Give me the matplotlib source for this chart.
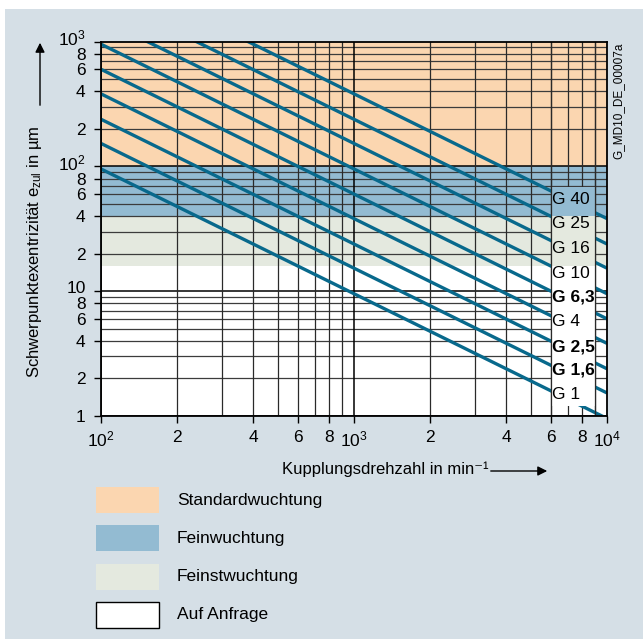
import numpy as np
import matplotlib.pyplot as plt
import matplotlib.transforms as mtransforms
from matplotlib.patches import Rectangle, FancyArrowPatch

plt.rcParams['font.family'] = ['Liberation Sans', 'DejaVu Sans']
plt.rcParams['mathtext.fontset'] = 'custom'
plt.rcParams['mathtext.rm'] = 'Liberation Sans'

# Wuchtgüte G: zulässige Exzentrizität bei 100 und 10000 1/min
grades = ['G 1', 'G 1,6', 'G 2,5', 'G 4', 'G 6,3', 'G 10', 'G 16', 'G 25', 'G 40']
bold = [False, True, True, False, True, False, False, False, False]
e_at_100 = [95.5, 153, 239, 382, 601, 955, 1528, 2387, 3820]
e_at_10000 = [0.955, 1.53, 2.39, 3.82, 6.01, 9.55, 15.3, 23.9, 38.2]
n_ends = [100, 10000]

# Bereiche
band_names = ['Standardwuchtung', 'Feinwuchtung', 'Feinstwuchtung', 'Auf Anfrage']
band_lo = [100, 40, 16, 1]
band_hi = [1000, 100, 40, 16]
band_colors = ['#fbd6b0', '#93bbd2', '#e4e9df', '#ffffff']

x_ticks = [100, 200, 400, 600, 800, 1000, 2000, 4000, 6000, 8000, 10000]
x_labels = ['$\\mathregular{10^2}$', '2', '4', '6', '8', '$\\mathregular{10^3}$',
            '2', '4', '6', '8', '$\\mathregular{10^4}$']
y_ticks = [1, 2, 4, 6, 8, 10, 20, 40, 60, 80, 100, 200, 400, 600, 800, 1000]
y_labels = ['1', '2', '4', '6', '8', '10', '2', '4', '6', '8', '$\\mathregular{10^2}$',
            '2', '4', '6', '8', '$\\mathregular{10^3}$']

line_col = '#08698c'
bg = '#d5dfe6'

fig = plt.figure(figsize=(6.43, 6.39), dpi=100, facecolor='white')
fig.patches.append(Rectangle((5 / 643, 0), 1, 630 / 639, transform=fig.transFigure,
                             facecolor=bg, edgecolor='none', zorder=-10))

ax = fig.add_axes([101 / 643, 223 / 639, 506 / 643, 374.3 / 639])
ax.set_xscale('log')
ax.set_yscale('log')
ax.set_xlim(100, 10000)
ax.set_ylim(1, 1000)
ax.set_facecolor('white')

for lo, hi, c in zip(band_lo, band_hi, band_colors):
    ax.axhspan(lo, hi, facecolor=c, edgecolor='none', zorder=0.5)

# Raster
for dec in [1, 10, 100]:
    for k in range(1, 10):
        y = dec * k
        ax.axhline(y, color='black' if k == 1 else '#3c3c3c',
                   lw=1.1 if k == 1 else 0.9, zorder=1)
for dec in [100, 1000]:
    for k in range(1, 10):
        x = dec * k
        ax.axvline(x, color='black' if k == 1 else '#2a2a2a',
                   lw=1.1 if k == 1 else 0.9, zorder=1)

for a, b in zip(e_at_100, e_at_10000):
    ax.plot(n_ends, [a, b], color=line_col, lw=2.4, solid_capstyle='butt', zorder=2)

# Beschriftungsfeld für die G-Linien
box_x = (6000, 9000)
box_bottom, box_top = 1.2, 69
for lo, hi, c in zip(band_lo, band_hi, band_colors):
    b0 = max(lo, box_bottom)
    b1 = min(hi, box_top)
    if b1 > b0:
        ax.add_patch(Rectangle((box_x[0], b0), box_x[1] - box_x[0], b1 - b0,
                               facecolor=c, edgecolor='none', zorder=3))
for x in box_x:
    ax.axvline(x, color='#2a2a2a', lw=0.9, zorder=3.5)

label_y = [1.48, 2.34, 3.6, 5.7, 9.0, 14.0, 22.2, 35, 54]
for g, yy, bb in zip(grades, label_y, bold):
    ax.text(6080, yy, g, fontsize=12.5, fontweight='bold' if bb else 'normal',
            ha='left', va='center', zorder=4)

ax.set_xticks(x_ticks)
ax.set_xticklabels(x_labels)
ax.set_yticks(y_ticks)
ax.set_yticklabels(y_labels)
ax.xaxis.set_minor_locator(plt.NullLocator())
ax.yaxis.set_minor_locator(plt.NullLocator())
ax.tick_params(axis='both', length=5, width=1, labelsize=12.5, direction='out')
ax.tick_params(axis='y', pad=6)
ax.tick_params(axis='x', pad=5)
for s in ax.spines.values():
    s.set_linewidth(1.3)
    s.set_zorder(5)

# Dekadenbeschriftung etwas nach oben, damit sie nicht in die 8 läuft
lift = mtransforms.ScaledTranslation(0, 0.045, fig.dpi_scale_trans)
for val, lab in zip(y_ticks, ax.get_yticklabels()):
    if val in (10, 100, 1000):
        lab.set_transform(lab.get_transform() + lift)


def fig_arrow(x0, y0, x1, y1):
    # Pfeil in Pixelkoordinaten (von oben gemessen)
    fig.patches.append(FancyArrowPatch((x0 / 643, 1 - y0 / 639), (x1 / 643, 1 - y1 / 639),
                                       transform=fig.transFigure, arrowstyle='-|>',
                                       color='black', lw=1, mutation_scale=14))


# Achsbeschriftungen mit Pfeilen
fig.text(35 / 643, 1 - 252 / 639, 'Schwerpunktexentrizität $\\mathregular{e_{zul}}$ in µm',
         rotation=90, ha='center', va='center', fontsize=12)
fig_arrow(40, 108, 40, 40)
fig.text(282 / 643, 1 - 469 / 639, 'Kupplungsdrehzahl in min⁻¹',
         ha='left', va='center', fontsize=12)
fig_arrow(488, 471, 550, 471)

fig.text(618 / 643, 1 - 101 / 639, 'G_MD10_DE_00007a', rotation=90,
         ha='center', va='center', fontsize=8.5)

# Legende
leg_top = [487, 525, 564, 602]
for name, c, t in zip(band_names, band_colors, leg_top):
    fig.patches.append(Rectangle((96 / 643, 1 - (t + 26) / 639), 63 / 643, 26 / 639,
                                 transform=fig.transFigure, facecolor=c,
                                 edgecolor='black' if c == '#ffffff' else 'none', lw=1))
    fig.text(177 / 643, 1 - (t + 13) / 639, name, ha='left', va='center', fontsize=12.5)

fig.savefig('out.png', dpi=100, facecolor=fig.get_facecolor())
